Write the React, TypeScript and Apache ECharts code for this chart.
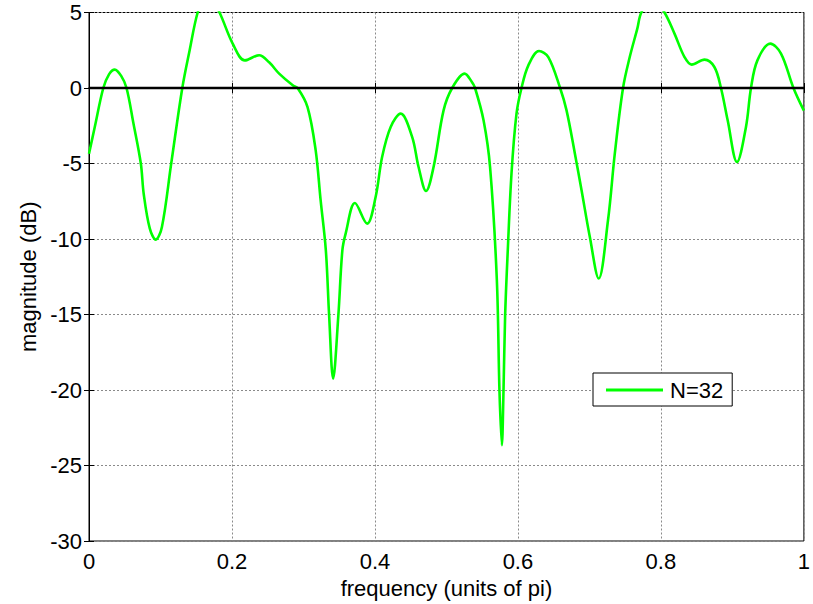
import React, { useEffect, useRef } from "react";
import * as echarts from "echarts";

const freq: number[] = [
  0.0, 0.008, 0.02, 0.028, 0.036, 0.045, 0.0525, 0.062, 0.0725, 0.0765, 0.085, 0.0934,
  0.102, 0.115, 0.1305, 0.1408, 0.152, 0.165, 0.1826, 0.201, 0.218, 0.238, 0.252, 0.266,
  0.285, 0.2918, 0.3057, 0.317, 0.324, 0.3313, 0.3359, 0.3415, 0.3488, 0.3544, 0.359,
  0.372, 0.389, 0.401, 0.41, 0.422, 0.436, 0.452, 0.461, 0.4715, 0.482, 0.496, 0.508,
  0.5254, 0.5356, 0.54, 0.5519, 0.561, 0.5705, 0.5742, 0.5775, 0.5798, 0.5821, 0.5858,
  0.591, 0.598, 0.605, 0.6146, 0.6295, 0.6425, 0.659, 0.668, 0.6797, 0.689, 0.7006,
  0.713, 0.726, 0.7355, 0.747, 0.7564, 0.767, 0.7726, 0.788, 0.805, 0.819, 0.833, 0.843,
  0.861, 0.8748, 0.884, 0.8934, 0.9064, 0.919, 0.926, 0.935, 0.953, 0.968, 0.9854, 1.0,
];

const magnitude: number[] = [
  -4.35, -2.6, 0, 0.9, 1.22, 0.8, 0, -2.3, -5.0, -7.0, -9.3, -10.04,
  -9.2, -5.0, 0, 2.5, 5.0, 6.5, 5.0, 2.94, 1.83, 2.17, 1.7, 0.95,
  0.18, 0, -1.26, -4.1, -7.43, -10.75, -15.06, -19.25, -15.06, -10.75, -9.64,
  -7.62, -8.98, -7.2, -4.57, -2.58, -1.7, -3.24, -5.23, -6.82, -5.23, -1.48, 0,
  0.95, 0.4, 0, -2.14, -5.23, -12.7, -20.1, -23.66, -20.1, -15.06, -10.75,
  -5.67, -1.7, 0, 1.5, 2.45, 2.05, 0, -1.48, -4.35, -6.77, -9.87,
  -12.62, -8.76, -4.35, 0, 2.05, 3.93, 5.0, 6.0, 5.0, 3.6, 2.05, 1.55,
  1.88, 1.39, 0, -2.14, -4.9, -2.58, 0, 1.83, 2.94, 2.28, 0, -1.5,
];

const zeroLineX: number[] = [0, 1];
const zeroLineY: number[] = [0, 0];

const xTicks: number[] = [0, 0.2, 0.4, 0.6, 0.8, 1];
const yTicks: number[] = [-30, -25, -20, -15, -10, -5, 0, 5];

const seriesName = "N=32";
const xLabel = "frequency (units of pi)";
const yLabel = "magnitude (dB)";

const FONT = "'Liberation Sans', Arial, Helvetica, sans-serif";

export default function App() {
  const ref = useRef<HTMLDivElement>(null);

  useEffect(() => {
    if (!ref.current) return;
    const chart = echarts.init(ref.current, undefined, { renderer: "svg" });

    const fmtX = (v: number) => (v === 0 ? "0" : v === 1 ? "1" : String(Number(v.toFixed(1))));

    const gridStyle = { color: "#8a8a8a", width: 1, type: [2, 2] as number[] };

    const option: echarts.EChartsOption = {
      animation: false,
      backgroundColor: "#ffffff",
      grid: {
        left: 89,
        right: 6.5,
        top: 12.5,
        bottom: 62.5,
        show: true,
        borderColor: "#000",
        borderWidth: 1,
        backgroundColor: "#fff",
      },
      legend: {
        data: [{ name: seriesName, icon: "rect", itemStyle: { color: "#00ff00" } }],
        left: 593,
        top: 373,
        padding: [6, 9, 5, 13],
        itemWidth: 57,
        itemHeight: 3,
        itemGap: 0,
        borderColor: "#000",
        borderWidth: 1,
        backgroundColor: "#fff",
        textStyle: { fontFamily: FONT, fontSize: 22, color: "#000", padding: [0, 0, 0, 2] },
      },
      xAxis: [
        {
          type: "value",
          min: xTicks[0],
          max: xTicks[xTicks.length - 1],
          interval: 0.2,
          position: "bottom",
          name: xLabel,
          nameLocation: "middle",
          nameGap: 36,
          nameTextStyle: { fontFamily: FONT, fontSize: 22, color: "#000" },
          axisLine: { show: true, lineStyle: { color: "#000", width: 1.5 } },
          axisTick: { show: true, inside: true, length: 5, lineStyle: { color: "#000" } },
          axisLabel: {
            fontFamily: FONT,
            fontSize: 22,
            color: "#000",
            margin: 9,
            formatter: (v: number) => fmtX(v),
          },
          splitLine: { show: true, lineStyle: gridStyle },
        },
        {
          type: "value",
          min: xTicks[0],
          max: xTicks[xTicks.length - 1],
          interval: 0.2,
          position: "top",
          axisLine: { show: true, lineStyle: { color: "#000", width: 1 } },
          axisTick: { show: true, inside: true, length: 5, lineStyle: { color: "#000" } },
          axisLabel: { show: false },
          splitLine: { show: false },
        },
      ],
      yAxis: [
        {
          type: "value",
          min: yTicks[0],
          max: yTicks[yTicks.length - 1],
          interval: 5,
          position: "left",
          name: yLabel,
          nameLocation: "middle",
          nameGap: 47,
          nameTextStyle: { fontFamily: FONT, fontSize: 22, color: "#000" },
          axisLine: { show: true, lineStyle: { color: "#000", width: 1 } },
          axisTick: { show: true, inside: true, length: 5, lineStyle: { color: "#000" } },
          axisLabel: { fontFamily: FONT, fontSize: 22, color: "#000", margin: 7 },
          splitLine: { show: true, lineStyle: gridStyle },
        },
        {
          type: "value",
          min: yTicks[0],
          max: yTicks[yTicks.length - 1],
          interval: 5,
          position: "right",
          axisLine: { show: true, lineStyle: { color: "#000", width: 1 } },
          axisTick: { show: true, inside: true, length: 5, lineStyle: { color: "#000" } },
          axisLabel: { show: false },
          splitLine: { show: false },
        },
      ],
      series: [
        {
          name: seriesName,
          type: "line",
          xAxisIndex: 0,
          yAxisIndex: 0,
          data: freq.map((f, i) => [f, magnitude[i]]),
          symbol: "none",
          smooth: 0.35,
          clip: true,
          lineStyle: { color: "#00ff00", width: 2.6 },
          itemStyle: { color: "#00ff00" },
          z: 3,
        },
        {
          name: "zero",
          type: "line",
          xAxisIndex: 0,
          yAxisIndex: 0,
          data: zeroLineX.map((x, i) => [x, zeroLineY[i]]),
          symbol: "none",
          lineStyle: { color: "#000", width: 2.6 },
          z: 4,
        },
      ],
    };

    chart.setOption(option);
    return () => chart.dispose();
  }, []);

  return (
    <div
      ref={ref}
      style={{ position: "fixed", left: 0, top: 0, width: 813, height: 604, background: "#fff" }}
    />
  );
}
